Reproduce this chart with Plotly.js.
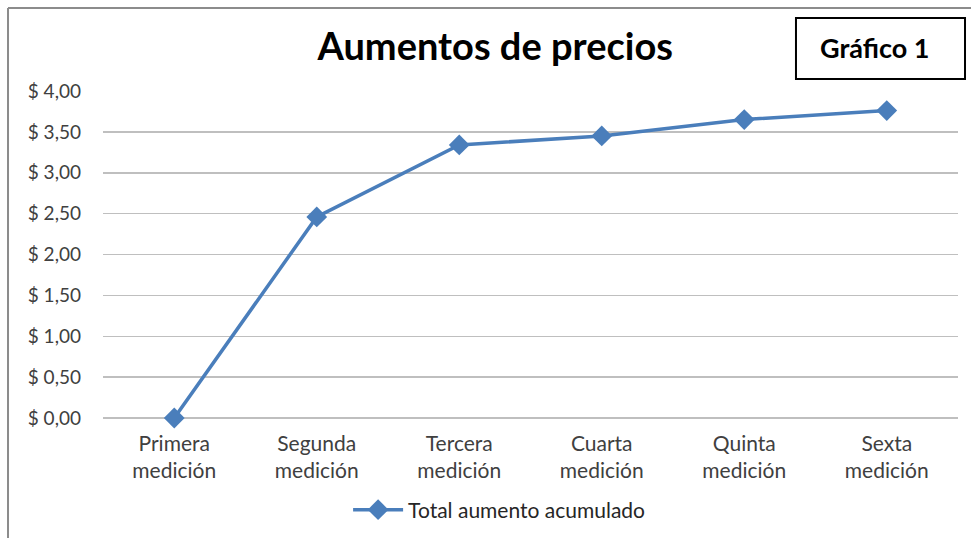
<!DOCTYPE html>
<html>
<head>
<meta charset="utf-8">
<script src="https://cdn.plot.ly/plotly-3.0.1.min.js"></script>
<style>html,body{margin:0;padding:0;background:#fff;}#chart{width:971px;height:538px;}</style>
</head>
<body>
<div id="chart"></div>
<script>
const categories = ["Primera<br>medición", "Segunda<br>medición", "Tercera<br>medición", "Cuarta<br>medición", "Quinta<br>medición", "Sexta<br>medición"];
const values = [0.00, 2.46, 3.34, 3.45, 3.65, 3.76];
const seriesName = "Total aumento acumulado";
const yTickVals = [0, 0.5, 1, 1.5, 2, 2.5, 3, 3.5, 4];
const yTickText = ["$ 0,00", "$ 0,50", "$ 1,00", "$ 1,50", "$ 2,00", "$ 2,50", "$ 3,00", "$ 3,50", "$ 4,00"];
const chartTitle = "Aumentos de precios";
const boxLabel = "Gráfico 1";

const FONT = "Lato, 'Open Sans', sans-serif";

const trace = {
  x: categories,
  y: values,
  type: "scatter",
  mode: "lines+markers",
  name: seriesName,
  cliponaxis: false,
  line: {color: "#4a7ebb", width: 3.5},
  marker: {symbol: "diamond", size: 16, color: "#4a7ebb"}
};

const layout = {
  width: 971,
  height: 538,
  margin: {l: 103, r: 13, t: 91, b: 120},
  paper_bgcolor: "#ffffff",
  plot_bgcolor: "#ffffff",
  font: {family: FONT, color: "#404040", size: 16},
  title: {
    text: "<b>" + chartTitle + "</b>",
    font: {family: FONT, size: 38, color: "#000000"},
    x: 0.51, xanchor: "center", xref: "container",
    y: 0.913, yanchor: "middle", yref: "container",
    automargin: false
  },
  xaxis: {
    type: "category",
    range: [-0.5, 5.5],
    automargin: false,
    showgrid: false,
    showline: false,
    zeroline: false,
    ticks: "",
    ticklabelstandoff: 11,
    tickfont: {family: FONT, size: 21, color: "#404040"},
    fixedrange: true
  },
  yaxis: {
    range: [0, 4],
    automargin: false,
    tickvals: yTickVals,
    ticktext: yTickText,
    showgrid: true,
    gridcolor: "#bfbfbf",
    gridwidth: 1.5,
    zeroline: true,
    zerolinecolor: "#bfbfbf",
    zerolinewidth: 1.5,
    showline: false,
    ticks: "",
    ticklabelstandoff: 21,
    tickfont: {family: FONT, size: 19, color: "#404040"},
    fixedrange: true
  },
  showlegend: true,
  legend: {
    orientation: "h",
    x: 0.514, xanchor: "center", xref: "container",
    y: 0.052, yanchor: "middle", yref: "container",
    font: {family: FONT, size: 21, color: "#262626"},
    itemwidth: 50
  },
  shapes: [
    {type: "line", xref: "paper", yref: "paper", x0: -0.1111, x1: 1.2, y0: 1.2538, y1: 1.2538, line: {color: "#8c8c8c", width: 2}},
    {type: "line", xref: "paper", yref: "paper", x0: -0.1111, x1: -0.1111, y0: 1.2538, y1: -0.4, line: {color: "#8c8c8c", width: 2}},
    {type: "rect", xref: "paper", yref: "paper", x0: 0.8105, x1: 1.0082, y0: 1.0367, y1: 1.2232, line: {color: "#000000", width: 2}, fillcolor: "rgba(0,0,0,0)"}
  ],
  annotations: [
    {text: "<b>" + boxLabel + "</b>", xref: "paper", yref: "paper", x: 0.902, y: 1.1315, xanchor: "center", yanchor: "middle", showarrow: false, font: {family: FONT, size: 27, color: "#000000"}}
  ]
};

Plotly.newPlot("chart", [trace], layout, {displayModeBar: false, staticPlot: true});
</script>
</body>
</html>
